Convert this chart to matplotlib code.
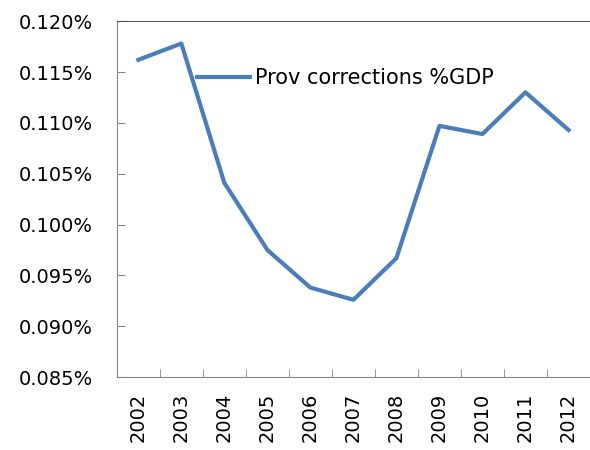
import matplotlib
matplotlib.use("Agg")
from matplotlib import pyplot as plt
from matplotlib.ticker import FuncFormatter
import numpy as np

# Dados
anos = ["2002", "2003", "2004", "2005", "2006", "2007",
        "2008", "2009", "2010", "2011", "2012"]
valores = [0.1162, 0.1178, 0.1041, 0.0975, 0.0938, 0.0926,
           0.0967, 0.1097, 0.1089, 0.1130, 0.1093]
serie = "Prov corrections %GDP"

plt.rcParams['font.family'] = ['DejaVu Sans']

fig = plt.figure(figsize=(5.9, 4.5), dpi=100)
ax = fig.add_axes([0.198, 0.162, 0.802, 0.791])

x = np.arange(len(anos))
ax.plot(x, valores, color="#4a7ebb", linewidth=3, label=serie)

ax.set_xlim(-0.5, len(anos) - 0.5)
ax.set_ylim(0.085, 0.120)
ax.set_yticks(np.arange(0.085, 0.1201, 0.005))
ax.yaxis.set_major_formatter(FuncFormatter(lambda v, p: "%.3f%%" % v))

ax.set_xticks(x)
ax.set_xticklabels(anos, rotation=90)
ax.set_xticks(x[:-1] + 0.5, minor=True)
ax.tick_params(axis="x", which="major", length=0, pad=11.5, labelsize=14)
ax.tick_params(axis="x", which="minor", direction="in", length=6, color="#868686")
ax.tick_params(axis="y", direction="in", length=6, color="#868686", pad=17, labelsize=14)

for lado in ["left", "bottom"]:
    ax.spines[lado].set_color("#868686")
ax.spines["top"].set_color("#555555")
ax.spines["right"].set_visible(False)

ax.legend(loc="upper left", bbox_to_anchor=(0.147, 0.898), frameon=False,
          fontsize=15, handlelength=2.55, handletextpad=0.24, borderpad=0)

fig.savefig("out.png", dpi=100)
